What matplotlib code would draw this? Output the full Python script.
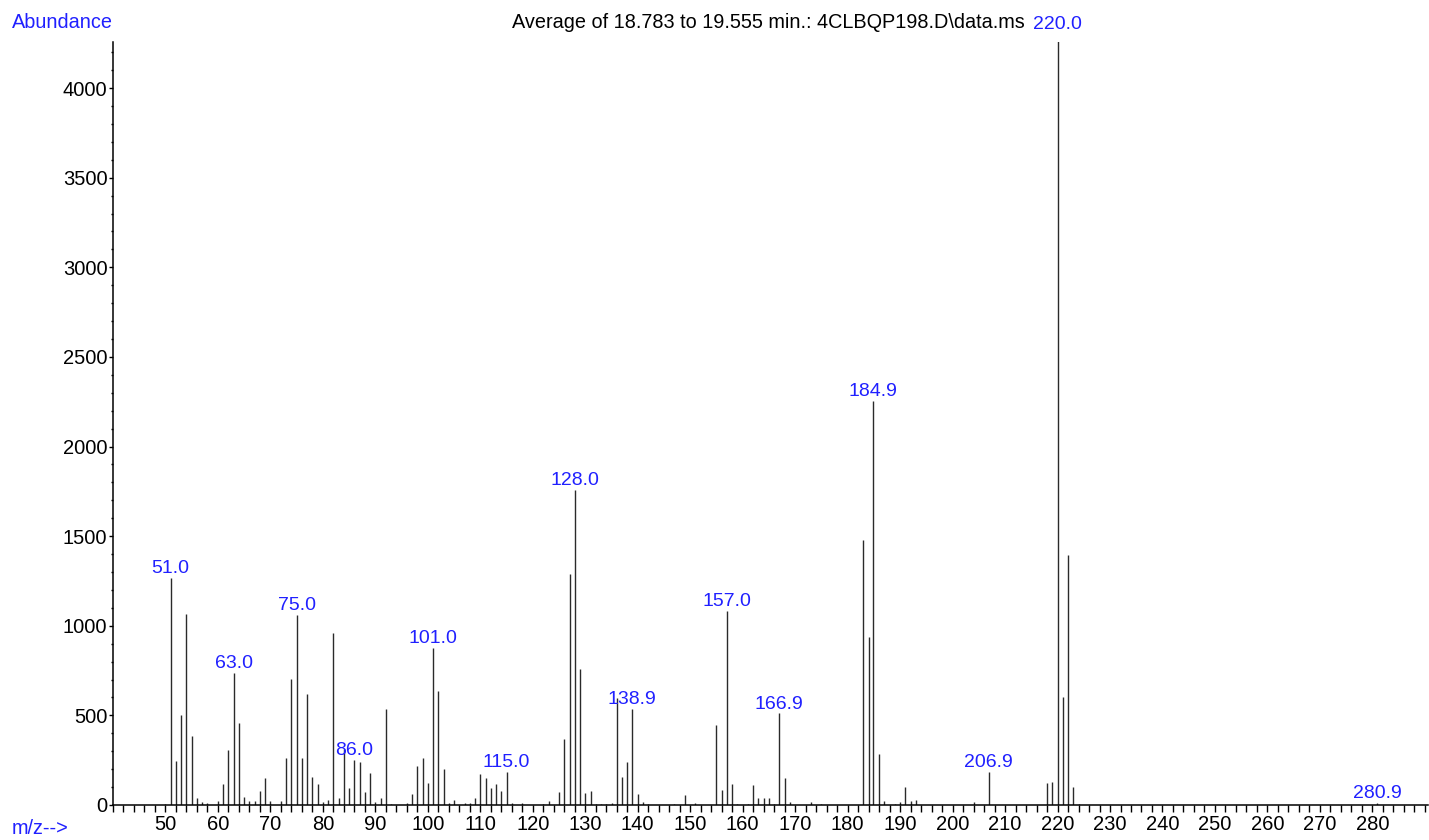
import matplotlib
matplotlib.use("Agg")
import matplotlib.pyplot as plt
from matplotlib.ticker import MultipleLocator

plt.rcParams['font.family'] = ['Liberation Sans', 'DejaVu Sans']

# m/z values and abundances
mz = [50, 51, 52, 53, 54, 55, 56, 57, 58, 60, 61, 62, 63, 64, 65, 66, 67, 68, 69, 70,
      72, 73, 74, 75, 76, 77, 78, 79, 80, 81, 82, 83, 84, 85, 86, 87, 88, 89, 90, 91,
      92, 93, 96, 97, 98, 99, 100, 101, 102, 103, 104, 105, 107, 108, 109, 110, 111,
      112, 113, 114, 115, 116, 118, 122, 123, 125, 126, 127, 128, 129, 130, 131, 132,
      133, 134, 135, 136, 137, 138, 138.9, 140, 141, 142, 147, 149, 151, 155, 156, 157,
      158, 159, 161, 162, 163, 164, 165, 166, 166.9, 168, 169, 173, 175, 183, 184,
      184.9, 186, 187, 189, 190, 191, 192, 193, 204, 206.9, 218, 219, 220, 221, 222,
      223, 224, 280.9]
abundance = [8, 1268, 245, 502, 1063, 387, 39, 17, 10, 23, 115, 309, 736, 459, 45, 20, 25, 80, 152, 20,
             20, 260, 701, 1061, 260, 617, 156, 115, 15, 30, 959, 40, 310, 96, 253, 242, 70, 178, 15, 40,
             535, 8, 10, 64, 215, 263, 125, 877, 638, 203, 10, 28, 10, 12, 40, 174, 149,
             93, 119, 80, 184, 10, 10, 8, 25, 70, 366, 1291, 1760, 756, 69, 78, 6,
             6, 6, 10, 598, 158, 242, 537, 61, 18, 6, 5, 56, 13, 446, 84, 1082,
             117, 5, 6, 110, 37, 37, 37, 6, 511, 150, 18, 18, 5, 1478, 938,
             2255, 284, 20, 5, 15, 99, 22, 28, 15, 185, 121, 130, 4300, 604, 1394,
             102, 6, 10]

labelled_mz = [51.0, 63.0, 75.0, 86.0, 101.0, 115.0, 128.0, 138.9, 157.0, 166.9,
               184.9, 206.9, 220.0, 280.9]

title = r"Average of 18.783 to 19.555 min.: 4CLBQP198.D\data.ms"
blue = '#2020ff'

W, H = 1429, 840
fig = plt.figure(figsize=(W / 100, H / 100), dpi=100)
ax = fig.add_axes([113 / W, 35 / H, (1428 - 113) / W, (805 - 42) / H])

ax.vlines(mz, 0, abundance, colors='#2a2a2a', linewidth=1.0)

lookup = dict(zip(mz, abundance))
for m in labelled_mz:
    a = lookup.get(m, lookup.get(int(m)))
    ax.annotate(f"{m:.1f}", xy=(m, a), xytext=(0, 3.5), textcoords='offset points',
                ha='center', va='baseline', color=blue, fontsize=14,
                annotation_clip=False)

ax.set_xlim(40, 290.6)
ax.set_ylim(0, 4257)

for s in ['top', 'right']:
    ax.spines[s].set_visible(False)
for s in ['left', 'bottom']:
    ax.spines[s].set_linewidth(1.1)
    ax.spines[s].set_color('black')

ax.xaxis.set_major_locator(MultipleLocator(10))
ax.xaxis.set_minor_locator(MultipleLocator(2))
ax.yaxis.set_major_locator(MultipleLocator(500))
ax.yaxis.set_minor_locator(MultipleLocator(100))
ax.set_xticks(range(50, 290, 10))
ax.tick_params(axis='x', which='both', length=5, width=1.0, direction='out',
               labelsize=14.5, pad=2.5)
ax.tick_params(axis='y', which='major', length=3, width=1.0, labelsize=14.5, pad=1)
ax.tick_params(axis='y', which='minor', length=1.5, width=1.0)

fig.text(12 / W, 1 - 23 / H, "Abundance", color=blue, fontsize=14.3, ha='left', va='center')
fig.text(12 / W, 1 - 828 / H, "m/z-->", color=blue, fontsize=14.3, ha='left', va='center')
fig.text(768 / W, 1 - 22 / H, title, color='black', fontsize=14.3, ha='center', va='center')

fig.savefig('out.png', dpi=100)
